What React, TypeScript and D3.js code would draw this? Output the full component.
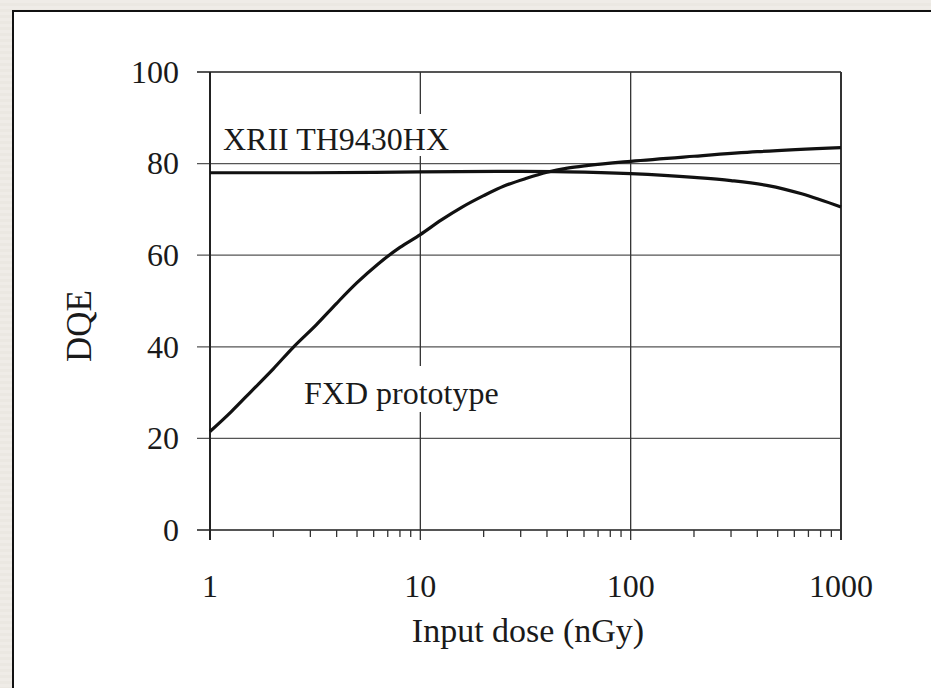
import React from "react";
import * as d3 from "d3";

// dose (nGy) vs DQE (%)
const fxdDose = [1, 1.26, 1.58, 2, 2.5, 3.2, 4, 5, 6.3, 8, 10, 12.6, 15.8, 20, 25, 32, 40, 50, 63, 100, 200, 400, 1000];
const fxdDqe = [21.5, 25.8, 30.4, 35.2, 40, 44.8, 49.5, 54, 58.1, 61.7, 64.5, 67.7, 70.5, 73, 75.1, 76.8, 78.1, 79, 79.6, 80.5, 81.6, 82.6, 83.5];

const xriiDose = [1, 3, 10, 30, 50, 100, 200, 300, 450, 650, 1000];
const xriiDqe = [78, 78, 78.2, 78.3, 78.2, 77.8, 77, 76.3, 75.2, 73.4, 70.5];

const yTicks = [0, 20, 40, 60, 80, 100];
const xMajor = [1, 10, 100, 1000];
const xLabels = ["1", "10", "100", "1000"];

const W = 931;
const H = 688;
const FONT = "'Liberation Serif', 'Times New Roman', serif";

export default function App() {
  const x = d3.scaleLog().domain([1, 1000]).range([210, 841]);
  const y = d3.scaleLinear().domain([0, 100]).range([530, 72]);

  const line = d3
    .line<[number, number]>()
    .x((d) => x(d[0]))
    .y((d) => y(d[1]))
    .curve(d3.curveMonotoneX);

  const fxd = fxdDose.map((d, i) => [d, fxdDqe[i]] as [number, number]);
  const xrii = xriiDose.map((d, i) => [d, xriiDqe[i]] as [number, number]);

  // minor ticks 2..9 in each decade
  const minor: number[] = [];
  [1, 10, 100].forEach((dec) => {
    for (let k = 2; k <= 9; k++) minor.push(dec * k);
  });

  const [x0, x1] = x.range();
  const [y0, y1] = y.range();

  return (
    <div>
      <style>{`body{margin:0;overflow:hidden}`}</style>
      <svg width={W} height={H} style={{ display: "block" }}>
        <defs>
          <pattern id="stripes" width="6" height="6" patternUnits="userSpaceOnUse">
            <rect width="6" height="6" fill="#ebe8e2" />
            <rect width="6" height="3" fill="#efece7" />
          </pattern>
        </defs>
        <rect width={W} height={H} fill="url(#stripes)" />
        <rect x={13} y={11} width={W} height={H} fill="#fff" stroke="#111" strokeWidth={2} />

        {/* horizontal grid */}
        {yTicks.map((t) => (
          <line key={t} x1={197} x2={x1} y1={y(t)} y2={y(t)} stroke="#555" strokeWidth={t === 0 || t === 100 ? 2 : 1.3} />
        ))}
        {/* vertical grid */}
        {xMajor.slice(1).map((t) => (
          <line key={t} x1={x(t)} x2={x(t)} y1={y1} y2={y0 + 10} stroke="#333" strokeWidth={t === 1000 ? 2 : 1.3} />
        ))}
        {/* left axis */}
        <line x1={x0} x2={x0} y1={y1} y2={y0 + 10} stroke="#222" strokeWidth={2} />
        {/* minor ticks */}
        {minor.map((m) => (
          <line key={m} x1={x(m)} x2={x(m)} y1={y0} y2={y0 + 7} stroke="#333" strokeWidth={1.3} />
        ))}

        {/* label boxes hide the grid behind them */}
        <rect x={217} y={114} width={248} height={42} fill="#fff" />
        <rect x={298} y={366} width={222} height={46} fill="#fff" />

        <path d={line(xrii) ?? ""} fill="none" stroke="#111" strokeWidth={3.2} />
        <path d={line(fxd) ?? ""} fill="none" stroke="#111" strokeWidth={3.2} />

        <g fontFamily={FONT} fill="#1a1a1a">
          {yTicks.map((t) => (
            <text key={t} x={179} y={y(t)} dy="0.34em" textAnchor="end" fontSize={32}>
              {t}
            </text>
          ))}
          {xMajor.map((t, i) => (
            <text key={t} x={x(t)} y={597} textAnchor="middle" fontSize={32}>
              {xLabels[i]}
            </text>
          ))}
          <text x={528} y={642} textAnchor="middle" fontSize={34}>
            Input dose (nGy)
          </text>
          <text transform="translate(91,326) rotate(-90)" textAnchor="middle" fontSize={35}>
            DQE
          </text>
          <text x={223} y={150} fontSize={32}>
            XRII TH9430HX
          </text>
          <text x={304} y={404} fontSize={32}>
            FXD prototype
          </text>
        </g>
      </svg>
    </div>
  );
}
